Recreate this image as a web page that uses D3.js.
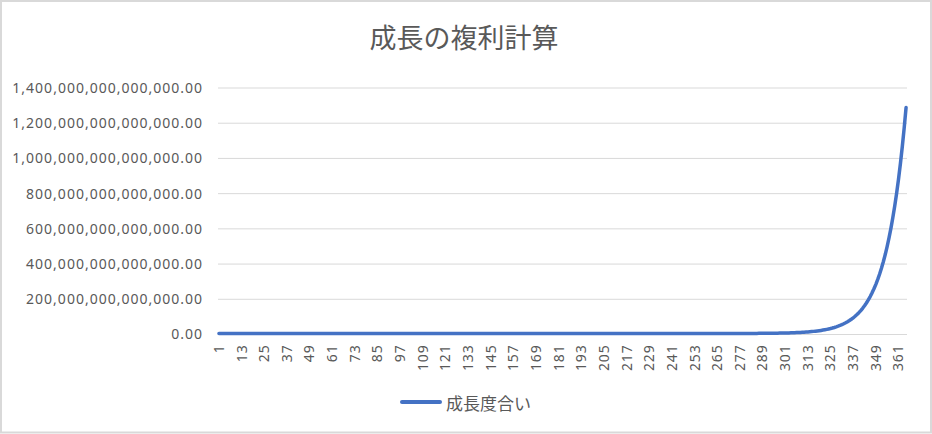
<!DOCTYPE html>
<html>
<head>
<meta charset="utf-8">
<script src="https://cdn.jsdelivr.net/npm/d3@7/dist/d3.min.js"></script>
<style>
  html, body { margin: 0; padding: 0; background: #ffffff; }
  svg { display: block; }
</style>
</head>
<body>
<svg id="chart" width="932" height="434"></svg>
<script>
// ---------- DATA ----------
const chartTitle = "成長の複利計算";
const seriesName = "成長度合い";

// categories: day 1 .. 365
const days = [
  1,2,3,4,5,6,7,8,9,10,11,12,13,14,15,16,17,18,19,20,
  21,22,23,24,25,26,27,28,29,30,31,32,33,34,35,36,37,38,39,40,
  41,42,43,44,45,46,47,48,49,50,51,52,53,54,55,56,57,58,59,60,
  61,62,63,64,65,66,67,68,69,70,71,72,73,74,75,76,77,78,79,80,
  81,82,83,84,85,86,87,88,89,90,91,92,93,94,95,96,97,98,99,100,
  101,102,103,104,105,106,107,108,109,110,111,112,113,114,115,116,117,118,119,120,
  121,122,123,124,125,126,127,128,129,130,131,132,133,134,135,136,137,138,139,140,
  141,142,143,144,145,146,147,148,149,150,151,152,153,154,155,156,157,158,159,160,
  161,162,163,164,165,166,167,168,169,170,171,172,173,174,175,176,177,178,179,180,
  181,182,183,184,185,186,187,188,189,190,191,192,193,194,195,196,197,198,199,200,
  201,202,203,204,205,206,207,208,209,210,211,212,213,214,215,216,217,218,219,220,
  221,222,223,224,225,226,227,228,229,230,231,232,233,234,235,236,237,238,239,240,
  241,242,243,244,245,246,247,248,249,250,251,252,253,254,255,256,257,258,259,260,
  261,262,263,264,265,266,267,268,269,270,271,272,273,274,275,276,277,278,279,280,
  281,282,283,284,285,286,287,288,289,290,291,292,293,294,295,296,297,298,299,300,
  301,302,303,304,305,306,307,308,309,310,311,312,313,314,315,316,317,318,319,320,
  321,322,323,324,325,326,327,328,329,330,331,332,333,334,335,336,337,338,339,340,
  341,342,343,344,345,346,347,348,349,350,351,352,353,354,355,356,357,358,359,360,
  361,362,363,364,365
];

// growth values per day
const growth = [
  1.1,1.21,1.331,1.464,1.611,1.772,1.949,2.144,2.358,2.594,2.853,3.138,3.452,3.797,4.177,4.595,5.054,5.560,6.116,6.727,7.400,8.140,8.954,9.850,
  10.83,11.92,13.11,14.42,15.86,17.45,19.19,21.11,23.23,25.55,28.10,30.91,34.00,37.40,41.14,45.26,49.79,54.76,60.24,66.26,72.89,80.18,88.20,97.02,
  106.7,117.4,129.1,142.0,156.2,171.9,189.1,208.0,228.8,251.6,276.8,304.5,334.9,368.4,405.3,445.8,490.4,539.4,593.4,652.7,718.0,789.8,868.7,955.6,
  1051,1156,1272,1399,1539,1693,1862,2048,2253,2479,2726,2999,3299,3629,3992,4391,4830,5313,5844,6429,7072,7779,8557,9412,
  1.0354e4,1.1389e4,1.2528e4,1.3781e4,1.5159e4,1.6675e4,1.8342e4,2.0176e4,2.2194e4,2.4413e4,2.6855e4,2.9540e4,3.2494e4,3.5744e4,3.9318e4,4.3250e4,4.7575e4,5.2332e4,5.7565e4,6.3322e4,6.9654e4,7.6620e4,8.4281e4,9.2709e4,
  1.0198e5,1.1218e5,1.2340e5,1.3574e5,1.4931e5,1.6425e5,1.8066e5,1.9873e5,2.1860e5,2.4046e5,2.6451e5,2.9096e5,3.2006e5,3.5207e5,3.8727e5,4.2600e5,4.6860e5,5.1546e5,5.6701e5,6.2371e5,6.8607e5,7.5469e5,8.3015e5,9.1317e5,
  1.0045e6,1.1049e6,1.2154e6,1.3370e6,1.4707e6,1.6178e6,1.7795e6,1.9575e6,2.1532e6,2.3685e6,2.6054e6,2.8659e6,3.1525e6,3.4678e6,3.8145e6,4.1960e6,4.6156e6,5.0771e6,5.5849e6,6.1434e6,6.7576e6,7.4335e6,8.1768e6,8.9944e6,
  9.8938e6,1.0883e7,1.1972e7,1.3169e7,1.4486e7,1.5934e7,1.7527e7,1.9280e7,2.1208e7,2.3329e7,2.5662e7,2.8228e7,3.1052e7,3.4156e7,3.7572e7,4.1329e7,4.5462e7,5.0008e7,5.5009e7,6.0510e7,6.6561e7,7.3217e7,8.0539e7,8.8592e7,
  9.7452e7,1.0720e8,1.1792e8,1.2971e8,1.4268e8,1.5695e8,1.7264e8,1.8991e8,2.0889e8,2.2978e8,2.5276e8,2.7804e8,3.0585e8,3.3643e8,3.7007e8,4.0708e8,4.4779e8,4.9257e8,5.4183e8,5.9601e8,6.5561e8,7.2117e8,7.9329e8,8.7262e8,
  9.5988e8,1.0559e9,1.1615e9,1.2776e9,1.4054e9,1.5459e9,1.7005e9,1.8706e9,2.0575e9,2.2633e9,2.4897e9,2.7386e9,3.0125e9,3.3138e9,3.6451e9,4.0097e9,4.4107e9,4.8517e9,5.3369e9,5.8706e9,6.4576e9,7.1034e9,7.8137e9,8.5951e9,
  9.4545e9,1.0400e10,1.1440e10,1.2584e10,1.3842e10,1.5227e10,1.6749e10,1.8424e10,2.0266e10,2.2293e10,2.4522e10,2.6975e10,2.9673e10,3.2639e10,3.5903e10,3.9494e10,4.3443e10,4.7787e10,5.2566e10,5.7823e10,6.3605e10,6.9966e10,7.6962e10,8.4658e10,
  9.3125e10,1.0244e11,1.1268e11,1.2395e11,1.3634e11,1.4998e11,1.6497e11,1.8147e11,1.9962e11,2.1958e11,2.4154e11,2.6569e11,2.9227e11,3.2149e11,3.5364e11,3.8901e11,4.2791e11,4.7070e11,5.1777e11,5.6954e11,6.2649e11,6.8915e11,7.5806e11,8.3387e11,
  9.1726e11,1.0090e12,1.1099e12,1.2209e12,1.3429e12,1.4773e12,1.6250e12,1.7875e12,1.9662e12,2.1628e12,2.3791e12,2.6170e12,2.8788e12,3.1666e12,3.4832e12,3.8316e12,4.2148e12,4.6362e12,5.0999e12,5.6099e12,6.1708e12,6.7879e12,7.4667e12,8.2134e12,
  9.0347e12,9.9382e12,1.0932e13,1.2025e13,1.3228e13,1.4551e13,1.6005e13,1.7606e13,1.9366e13,2.1303e13,2.3434e13,2.5777e13,2.8355e13,3.1190e13,3.4309e13,3.7741e13,4.1515e13,4.5666e13,5.0233e13,5.5256e13,6.0781e13,6.6859e13,7.3545e13,8.0900e13,
  8.8990e13,9.7889e13,1.0768e14,1.1845e14,1.3029e14,1.4332e14,1.5765e14,1.7342e14,1.9075e14,2.0983e14,2.3082e14,2.5390e14,2.7929e14,3.0722e14,3.3794e14,3.7174e14,4.0891e14,4.4980e14,4.9478e14,5.4425e14,5.9868e14,6.5855e14,7.2440e14,7.9684e14,
  8.7652e14,9.6418e14,1.0606e15,1.1666e15,1.2833e15
];

const xTickLabels = [1,13,25,37,49,61,73,85,97,109,121,133,145,157,169,181,193,205,217,229,241,253,265,277,289,301,313,325,337,349,361];
const yTicks = [0, 2e14, 4e14, 6e14, 8e14, 1e15, 1.2e15, 1.4e15];

// ---------- LAYOUT ----------
const W = 932, H = 434;
const plot = { left: 218, right: 907, top: 87, bottom: 333.5 };
const textColor = "#595959";
const gridColor = "#d9d9d9";
const lineColor = "#4472C4";
const latinFont = "'Noto Sans', 'Noto Sans CJK JP', sans-serif";
const cjkFont = "'Noto Sans CJK JP', 'Noto Sans', sans-serif";

const svg = d3.select("#chart");

// background + border
svg.append("rect")
  .attr("x", 1).attr("y", 1).attr("width", W - 2).attr("height", H - 2.5)
  .attr("fill", "#ffffff").attr("stroke", gridColor).attr("stroke-width", 2);

const x = d3.scaleBand().domain(days).range([plot.left, plot.right]).padding(0);
const y = d3.scaleLinear().domain([0, 1.4e15]).range([plot.bottom, plot.top]);

// gridlines + y labels
const yAxis = d3.axisLeft(y).tickValues(yTicks)
  .tickSize(-(plot.right - plot.left)).tickPadding(15)
  .tickFormat(d3.format(",.2f"));
const gy = svg.append("g")
  .attr("transform", `translate(${plot.left},0.5)`)
  .call(yAxis);
gy.select(".domain").remove();
gy.selectAll(".tick line").attr("stroke", gridColor).attr("stroke-width", 1);
gy.selectAll(".tick text")
  .attr("fill", textColor)
  .style("font-family", latinFont)
  .style("font-size", "14px")
  .style("letter-spacing", "1px")
  .attr("dy", "0.35em");

// x axis labels
const xAxis = d3.axisBottom(x).tickValues(xTickLabels).tickSize(0).tickPadding(0);
const gx = svg.append("g")
  .attr("transform", `translate(0,${plot.bottom})`)
  .call(xAxis);
gx.select(".domain").remove();
gx.selectAll(".tick text")
  .attr("fill", textColor)
  .style("font-family", latinFont)
  .style("font-size", "14px")
  .style("letter-spacing", "0.8px")
  .attr("text-anchor", "end")
  .attr("transform", "rotate(-90)")
  .attr("x", -11)
  .attr("y", 0)
  .attr("dy", "0.35em");

// series line
const line = d3.line()
  .x((d, i) => x(days[i]) + x.bandwidth() / 2)
  .y(d => y(d));
svg.append("path")
  .datum(growth)
  .attr("d", line)
  .attr("fill", "none")
  .attr("stroke", lineColor)
  .attr("stroke-width", 3.5)
  .attr("stroke-linejoin", "round")
  .attr("stroke-linecap", "round");

// title
svg.append("text")
  .attr("x", 464).attr("y", 36)
  .attr("text-anchor", "middle")
  .attr("dominant-baseline", "central")
  .attr("fill", textColor)
  .style("font-family", cjkFont)
  .style("font-size", "27px")
  .text(chartTitle);

// legend
const lg = svg.append("g");
lg.append("line")
  .attr("x1", 402).attr("x2", 440).attr("y1", 402).attr("y2", 402)
  .attr("stroke", lineColor).attr("stroke-width", 4).attr("stroke-linecap", "round");
lg.append("text")
  .attr("x", 446).attr("y", 402.5)
  .attr("dominant-baseline", "central")
  .attr("fill", textColor)
  .style("font-family", cjkFont)
  .style("font-size", "17px")
  .text(seriesName);
</script>
</body>
</html>
